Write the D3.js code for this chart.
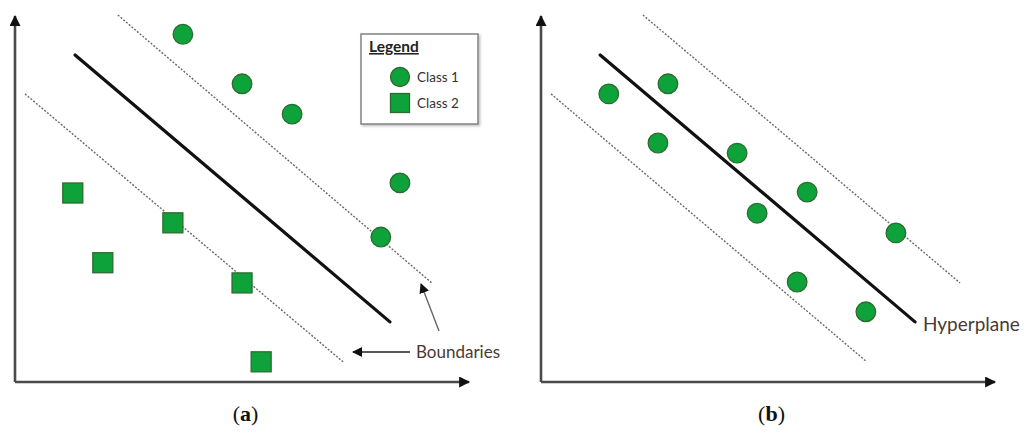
<!DOCTYPE html>
<html>
<head>
<meta charset="utf-8">
<script src="https://cdn.jsdelivr.net/npm/d3@7"></script>
<style>
  html, body { margin: 0; padding: 0; background: #fff; }
  svg { display: block; }
</style>
</head>
<body>
<svg id="chart" width="1030" height="441"></svg>
<script>
// Panel (a): two classes separated by a margin
const class1A = [[3.69, 7.58], [4.99, 6.50], [6.09, 5.84], [8.46, 4.34], [8.04, 3.16]];
const class2A = [[1.27, 4.12], [1.93, 2.60], [3.47, 3.47], [4.99, 2.16], [5.41, 0.44]];
// Panel (b): single class around the hyperplane
const class1B = [[1.49, 6.28], [2.79, 6.50], [2.57, 5.21], [4.31, 4.99], [5.85, 4.14],
                 [4.75, 3.68], [7.80, 3.25], [5.63, 2.18], [7.14, 1.53]];

// Line segments [x1, y1, x2, y2]
const hyperplaneA = [1.32, 7.13, 8.24, 1.31];
const upperBoundA = [2.26, 8.00, 9.16, 2.16];
const lowerBoundA = [0.22, 6.28, 7.21, 0.44];
const hyperplaneB = [1.30, 7.13, 8.22, 1.31];
const upperBoundB = [2.24, 8.00, 9.21, 2.16];
const lowerBoundB = [0.22, 6.28, 7.16, 0.44];

const legendLabels = ["Class 1", "Class 2"];
const captions = ["a", "b"];

const GREEN = "#0ea33a";
const GREEN_STROKE = "#2c6b2f";

const svg = d3.select("#chart");

const defs = svg.append("defs");
defs.append("marker")
  .attr("id", "arrow")
  .attr("viewBox", "0 0 10 10")
  .attr("refX", 9).attr("refY", 5)
  .attr("markerWidth", 10).attr("markerHeight", 10)
  .attr("markerUnits", "userSpaceOnUse")
  .attr("orient", "auto")
  .append("path").attr("d", "M0,0 L10,5 L0,10 Z").attr("fill", "#111");
defs.append("marker")
  .attr("id", "arrowBig")
  .attr("viewBox", "0 0 10 10")
  .attr("refX", 9).attr("refY", 5)
  .attr("markerWidth", 13).attr("markerHeight", 11)
  .attr("markerUnits", "userSpaceOnUse")
  .attr("orient", "auto")
  .append("path").attr("d", "M0,0 L10,5 L0,10 Z").attr("fill", "#111");
const shadow = defs.append("filter").attr("id", "shadow").attr("x", "-10%").attr("y", "-10%").attr("width", "130%").attr("height", "130%");
shadow.append("feDropShadow").attr("dx", 1.5).attr("dy", 1.5).attr("stdDeviation", 1).attr("flood-color", "#999").attr("flood-opacity", 0.6);

function panel(x0, x1, opts) {
  const x = d3.scaleLinear().domain([0, 10]).range([x0, x1]);
  const y = d3.scaleLinear().domain([0, 8]).range([382, 15]);
  const g = svg.append("g");

  // axes with arrowheads
  g.append("line")
    .attr("x1", x(0)).attr("y1", y(0)).attr("x2", x(0)).attr("y2", y(8) + 1)
    .attr("stroke", "#4a4a4a").attr("stroke-width", 2.6)
    .attr("marker-end", "url(#arrowBig)");
  g.append("line")
    .attr("x1", x(0)).attr("y1", y(0)).attr("x2", x(10) - 1).attr("y2", y(0))
    .attr("stroke", "#4a4a4a").attr("stroke-width", 2.6)
    .attr("marker-end", "url(#arrowBig)");

  // margin boundaries
  [opts.upper, opts.lower].forEach(s => {
    g.append("line")
      .attr("x1", x(s[0])).attr("y1", y(s[1])).attr("x2", x(s[2])).attr("y2", y(s[3]))
      .attr("stroke", "#6a6a6a").attr("stroke-width", 1.4)
      .attr("stroke-dasharray", "2,1.6");
  });
  // separating hyperplane
  const h = opts.hyper;
  g.append("line")
    .attr("x1", x(h[0])).attr("y1", y(h[1])).attr("x2", x(h[2])).attr("y2", y(h[3]))
    .attr("stroke", "#111").attr("stroke-width", 3.2).attr("stroke-linecap", "round");

  g.selectAll("circle.c1").data(opts.circles).join("circle")
    .attr("class", "c1")
    .attr("cx", d => x(d[0])).attr("cy", d => y(d[1])).attr("r", 9.8)
    .attr("fill", GREEN).attr("stroke", GREEN_STROKE).attr("stroke-width", 1.3);
  g.selectAll("rect.c2").data(opts.squares || []).join("rect")
    .attr("class", "c2")
    .attr("x", d => x(d[0]) - 10).attr("y", d => y(d[1]) - 10)
    .attr("width", 20).attr("height", 20)
    .attr("fill", GREEN).attr("stroke", GREEN_STROKE).attr("stroke-width", 1.3);

  return { x, y, g };
}

const pa = panel(15, 470, { circles: class1A, squares: class2A, hyper: hyperplaneA, upper: upperBoundA, lower: lowerBoundA });
const pb = panel(541, 996, { circles: class1B, hyper: hyperplaneB, upper: upperBoundB, lower: lowerBoundB });

// Legend (panel a)
const lg = svg.append("g").attr("transform", "translate(361,34)");
lg.append("rect").attr("width", 117).attr("height", 90)
  .attr("fill", "#fff").attr("stroke", "#8a8a8a").attr("stroke-width", 1.6)
  .attr("filter", "url(#shadow)");
lg.append("text").attr("x", 8).attr("y", 18)
  .attr("font-family", "Lato, 'Open Sans', sans-serif").attr("font-weight", "bold")
  .attr("font-size", 15.5).attr("fill", "#222").attr("text-decoration", "underline")
  .text("Legend");
lg.append("circle").attr("cx", 39).attr("cy", 43).attr("r", 9.5)
  .attr("fill", GREEN).attr("stroke", GREEN_STROKE).attr("stroke-width", 1.3);
lg.append("rect").attr("x", 29.5).attr("y", 59.5).attr("width", 19).attr("height", 19)
  .attr("fill", GREEN).attr("stroke", GREEN_STROKE).attr("stroke-width", 1.3);
lg.selectAll("text.lab").data(legendLabels).join("text")
  .attr("class", "lab")
  .attr("x", 56).attr("y", (d, i) => 48 + i * 26)
  .attr("font-family", "Lato, 'Open Sans', sans-serif").attr("font-size", 13.5)
  .attr("fill", "#333").text(d => d);

// Annotations
const noteColor = "#4a3a30";
const noteFont = "Lato, 'Open Sans', sans-serif";
svg.append("line").attr("x1", 439).attr("y1", 331).attr("x2", 421).attr("y2", 284)
  .attr("stroke", "#666").attr("stroke-width", 1.4).attr("marker-end", "url(#arrow)");
svg.append("line").attr("x1", 410).attr("y1", 352).attr("x2", 353).attr("y2", 352)
  .attr("stroke", "#222").attr("stroke-width", 1.6).attr("marker-end", "url(#arrow)");
svg.append("text").attr("x", 416).attr("y", 358)
  .attr("font-family", noteFont).attr("font-size", 17).attr("fill", noteColor)
  .text("Boundaries");
svg.append("text").attr("x", 923).attr("y", 331)
  .attr("font-family", noteFont).attr("font-size", 19).attr("fill", noteColor)
  .text("Hyperplane");

// Panel captions
[[pa, captions[0]], [pb, captions[1]]].forEach(([p, c]) => {
  const t = svg.append("text")
    .attr("x", (p.x.range()[0] + p.x.range()[1]) / 2 + 3).attr("y", 421)
    .attr("text-anchor", "middle")
    .attr("font-family", "'Liberation Serif', 'DejaVu Serif', serif").attr("font-size", 22)
    .attr("fill", "#111");
  t.append("tspan").text("(");
  t.append("tspan").attr("font-weight", "bold").text(c);
  t.append("tspan").text(")");
});
</script>
</body>
</html>
